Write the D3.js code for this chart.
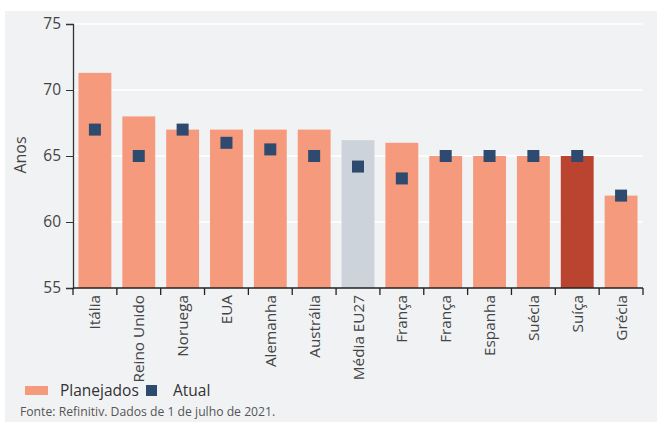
<!DOCTYPE html>
<html><head><meta charset="utf-8">
<script src="https://cdn.jsdelivr.net/npm/d3@7"></script>
<style>
body{margin:0;background:#fff;}
svg{display:block;font-family:"Open Sans","Noto Sans",sans-serif;}
</style></head>
<body><svg id="c" width="657" height="422"></svg>
<script>
const categories = ["Itália","Reino Unido","Noruega","EUA","Alemanha","Austrália","Média EU27","França","França","Espanha","Suécia","Suíça","Grécia"];
const planejados = [71.3,68,67,67,67,67,66.2,66,65,65,65,65,62];
const atual = [67,65,67,66,65.5,65,64.2,63.3,65,65,65,65,62];
const barColors = ["#f59a7c","#f59a7c","#f59a7c","#f59a7c","#f59a7c","#f59a7c","#cdd3da","#f59a7c","#f59a7c","#f59a7c","#f59a7c","#bb4430","#f59a7c"];
const yTicks = [55,60,65,70,75];

const svg = d3.select("#c");
svg.append("rect").attr("x",5).attr("y",11).attr("width",652).attr("height",411).attr("fill","#f1f2f4");

const x = d3.scaleBand().domain(d3.range(categories.length)).range([73,643]).padding(0);
const y = d3.scaleLinear().domain([55,75]).range([288,24]);

// gridlines
svg.append("g").selectAll("line").data(yTicks.filter(t=>t>55)).join("line")
  .attr("x1",73).attr("x2",643).attr("y1",d=>y(d)).attr("y2",d=>y(d))
  .attr("stroke","#ffffff").attr("stroke-width",1.5);

// bars
const bw = x.bandwidth()*0.75;
svg.append("g").selectAll("rect").data(planejados).join("rect")
  .attr("x",(d,i)=>x(i)+x.bandwidth()/2-bw/2).attr("width",bw)
  .attr("y",d=>y(d)).attr("height",d=>y(55)-y(d))
  .attr("fill",(d,i)=>barColors[i]);

// markers
const ms = 12;
svg.append("g").selectAll("rect").data(atual).join("rect")
  .attr("x",(d,i)=>x(i)+x.bandwidth()/2-ms/2).attr("y",d=>y(d)-ms/2)
  .attr("width",ms).attr("height",ms).attr("fill","#2e4a6e");

// y axis
const ya = svg.append("g").attr("transform","translate(73,0)")
  .call(d3.axisLeft(y).tickValues(yTicks).tickSize(7).tickPadding(5));
ya.select(".domain").attr("stroke","#333").attr("stroke-width",1.3);
ya.selectAll(".tick line").attr("stroke","#333");
ya.selectAll("text").attr("font-size",15.5).attr("fill","#444").attr("font-family","Open Sans, sans-serif");

// x axis with ticks at band edges
const xa = svg.append("g").attr("transform","translate(0,288)");
xa.append("line").attr("x1",73).attr("x2",643).attr("stroke","#222").attr("stroke-width",1.3);
xa.selectAll("line.t").data(d3.range(categories.length+1)).join("line").attr("class","t")
  .attr("x1",i=>i<categories.length?x(i):x.range()[1]).attr("x2",i=>i<categories.length?x(i):x.range()[1])
  .attr("y1",0).attr("y2",7).attr("stroke","#222").attr("stroke-width",1.3);
xa.selectAll("text").data(categories).join("text")
  .attr("transform",(d,i)=>`translate(${x(i)+x.bandwidth()/2+5.5},7) rotate(-90)`)
  .attr("text-anchor","end").attr("font-size",15.3).attr("fill","#444").text(d=>d);

// y label
svg.append("text").attr("transform","translate(26,155) rotate(-90)")
  .attr("text-anchor","middle").attr("font-size",16).attr("fill","#444").text("Anos");

// legend
svg.append("rect").attr("x",25).attr("y",386).attr("width",23).attr("height",9).attr("fill","#f59a7c");
svg.append("text").attr("x",60).attr("y",396).attr("font-size",15.5).attr("fill","#333").text("Planejados");
svg.append("rect").attr("x",146).attr("y",385).attr("width",11).attr("height",11).attr("fill","#2e4a6e");
svg.append("text").attr("x",173).attr("y",396).attr("font-size",15.5).attr("fill","#333").text("Atual");

// source
svg.append("text").attr("x",20).attr("y",416).attr("font-size",12.2).attr("fill","#555")
  .text("Fonte: Refinitiv. Dados de 1 de julho de 2021.");
</script></body></html>
